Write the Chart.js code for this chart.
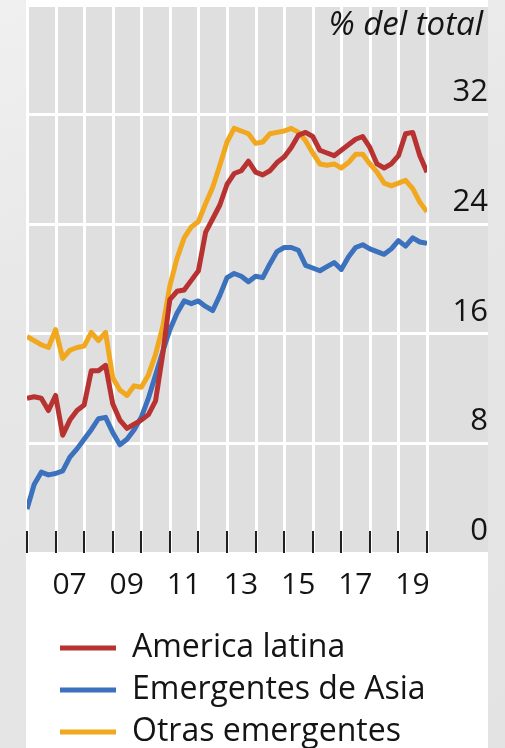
<!DOCTYPE html>
<html lang="es">
<head>
<meta charset="utf-8">
<script src="https://cdn.jsdelivr.net/npm/chart.js@4.4.1/dist/chart.umd.min.js"></script>
<style>
  html, body { margin: 0; overflow: hidden; }
  body { width: 505px; height: 748px; position: relative;
    background: linear-gradient(160deg, #f0f0f0 0%, #e7e7e7 35%, #e3e3e3 100%); }
  #panel { position: absolute; left: 26px; top: 0; width: 462px; height: 758px; background: #fff; }
</style>
</head>
<body>
<div id="panel"><canvas id="grafico" width="462" height="758"></canvas></div>
<script>
// trimestres 2006 T1 .. 2020 T1
const trimestres = [
  2006, 2006.25, 2006.5, 2006.75, 2007, 2007.25, 2007.5, 2007.75,
  2008, 2008.25, 2008.5, 2008.75, 2009, 2009.25, 2009.5, 2009.75,
  2010, 2010.25, 2010.5, 2010.75, 2011, 2011.25, 2011.5, 2011.75,
  2012, 2012.25, 2012.5, 2012.75, 2013, 2013.25, 2013.5, 2013.75,
  2014, 2014.25, 2014.5, 2014.75, 2015, 2015.25, 2015.5, 2015.75,
  2016, 2016.25, 2016.5, 2016.75, 2017, 2017.25, 2017.5, 2017.75,
  2018, 2018.25, 2018.5, 2018.75, 2019, 2019.25, 2019.5, 2019.75,
  2020
];
const americaLatina = [
  11.3, 11.4, 11.3, 10.4, 11.5, 8.6, 9.7, 10.4, 10.8, 13.3, 13.3, 13.7,
  10.9, 9.7, 9.1, 9.4, 9.7, 10.1, 11.1, 14.5, 18.5, 19.1, 19.2, 19.9,
  20.6, 23.4, 24.4, 25.4, 26.9, 27.7, 27.9, 28.6, 27.8, 27.6, 27.9, 28.5,
  28.9, 29.6, 30.5, 30.7, 30.4, 29.4, 29.2, 29.0, 29.4, 29.8, 30.2, 30.4,
  29.6, 28.4, 28.1, 28.4, 29.0, 30.6, 30.7, 29.0, 27.8
];
const emergentesAsia = [
  3.2, 5.0, 5.9, 5.7, 5.8, 6.0, 7.0, 7.6, 8.3, 9.0, 9.8, 9.9,
  8.8, 7.9, 8.3, 9.0, 9.9, 11.3, 13.0, 14.7, 16.3, 17.5, 18.4, 18.2,
  18.4, 18.0, 17.7, 18.8, 20.1, 20.4, 20.2, 19.8, 20.2, 20.1, 21.1, 22.0,
  22.3, 22.3, 22.1, 21.0, 20.8, 20.6, 20.9, 21.2, 20.7, 21.6, 22.3, 22.5,
  22.2, 22.0, 21.8, 22.2, 22.8, 22.4, 23.0, 22.7, 22.6
];
const otrasEmergentes = [
  15.8, 15.5, 15.2, 15.0, 16.3, 14.2, 14.8, 15.0, 15.1, 16.1, 15.5, 16.1,
  12.8, 11.9, 11.5, 12.2, 12.1, 13.0, 14.5, 16.5, 19.5, 21.5, 23.0, 23.8,
  24.2, 25.5, 26.7, 28.3, 30.0, 31.0, 30.8, 30.6, 29.9, 30.0, 30.6, 30.7,
  30.8, 31.0, 30.7, 30.1, 29.2, 28.4, 28.3, 28.4, 28.1, 28.5, 29.1, 29.1,
  28.4, 27.8, 27.0, 26.8, 27.0, 27.2, 26.6, 25.6, 24.9
];
const aniosGrid = [2006, 2007, 2008, 2009, 2010, 2011, 2012, 2013, 2014, 2015, 2016, 2017, 2018, 2019, 2020];
const aniosEtiqueta = [2007, 2009, 2011, 2013, 2015, 2017, 2019];
const etiquetasX = ['07', '09', '11', '13', '15', '17', '19'];
const marcasY = [0, 8, 16, 24, 32];
const unidad = '% del total';

const fuente = '"Open Sans", "Noto Sans", sans-serif';
const colorTexto = '#141414';

// fondo gris del area de trazado, incluida la franja de etiquetas del eje y
const fondoGris = {
  id: 'fondoGris',
  beforeDraw(chart) {
    const { ctx, chartArea: a } = chart;
    ctx.save();
    ctx.fillStyle = '#dfdfdf';
    ctx.fillRect(a.left, a.top, chart.width - a.left, a.bottom - a.top);
    ctx.restore();
  }
};

// lineas verticales por año, marcas negras hacia dentro y texto de la unidad
const marcasEje = {
  id: 'marcasEje',
  beforeDatasetsDraw(chart) {
    const { ctx, chartArea: a, scales: { x } } = chart;
    ctx.save();
    ctx.strokeStyle = '#ffffff';
    ctx.lineWidth = 3;
    aniosGrid.forEach(anio => {
      const px = Math.round(x.getPixelForValue(anio)) + 0.5;
      ctx.beginPath();
      ctx.moveTo(px, a.top);
      ctx.lineTo(px, a.bottom);
      ctx.stroke();
    });
    ctx.strokeStyle = '#222';
    ctx.lineWidth = 2;
    aniosGrid.forEach(anio => {
      const px = Math.round(x.getPixelForValue(anio));
      ctx.beginPath();
      ctx.moveTo(px, a.bottom - 22);
      ctx.lineTo(px, a.bottom);
      ctx.stroke();
    });
    ctx.restore();
  },
  afterDraw(chart) {
    const { ctx, chartArea: a } = chart;
    ctx.save();
    ctx.font = 'italic 33px ' + fuente;
    ctx.fillStyle = colorTexto;
    ctx.textAlign = 'right';
    ctx.textBaseline = 'middle';
    ctx.fillText(unidad, chart.width - 5, a.top + 21);
    ctx.restore();
  }
};

const moverLeyenda = {
  id: 'moverLeyenda',
  afterLayout(chart) {
    chart.legend.left += 23;
  }
};

const contexto = document.getElementById('grafico').getContext('2d');

const grafico = new Chart(contexto, {
  type: 'line',
  data: {
    datasets: [
      {
        label: 'America latina',
        data: trimestres.map((t, i) => ({ x: t, y: americaLatina[i] })),
        borderColor: '#b83232',
        backgroundColor: '#b83232'
      },
      {
        label: 'Emergentes de Asia',
        data: trimestres.map((t, i) => ({ x: t, y: emergentesAsia[i] })),
        borderColor: '#3b71bd',
        backgroundColor: '#3b71bd'
      },
      {
        label: 'Otras emergentes',
        data: trimestres.map((t, i) => ({ x: t, y: otrasEmergentes[i] })),
        borderColor: '#f1a81f',
        backgroundColor: '#f1a81f'
      }
    ]
  },
  options: {
    responsive: false,
    animation: false,
    layout: { padding: { top: 5, left: 1, right: 0, bottom: 0 } },
    elements: {
      point: { radius: 0 },
      line: { borderWidth: 5, tension: 0, borderJoinStyle: 'round' }
    },
    scales: {
      x: {
        type: 'linear',
        min: 2006,
        max: 2020,
        afterBuildTicks(scale) { scale.ticks = aniosGrid.map(v => ({ value: v })); },
        afterFit(scale) { scale.height = 69; },
        // la rejilla vertical la pinta marcasEje; aqui solo reserva el hueco bajo el area
        grid: { drawOnChartArea: false, drawTicks: true, tickLength: 14, tickColor: 'rgba(0,0,0,0)' },
        border: { display: false },
        ticks: {
          autoSkip: false,
          maxRotation: 0,
          padding: 0,
          labelOffset: 14,
          color: colorTexto,
          font: { family: fuente, size: 30 },
          callback(v) {
            const i = aniosEtiqueta.indexOf(v);
            return i >= 0 ? etiquetasX[i] : '';
          }
        }
      },
      y: {
        position: 'right',
        min: 0,
        max: 40,
        afterBuildTicks(scale) { scale.ticks = marcasY.concat([40]).map(v => ({ value: v })); },
        afterFit(scale) { scale.width = 61; },
        grid: { color: '#ffffff', lineWidth: 3, drawTicks: true, tickLength: 61 },
        border: { display: false },
        ticks: {
          crossAlign: 'far',
          padding: -41,
          labelOffset: -22,
          color: colorTexto,
          font: { family: fuente, size: 31 },
          callback: v => marcasY.includes(v) ? String(v) : ''
        }
      }
    },
    plugins: {
      tooltip: { enabled: false },
      legend: {
        position: 'bottom',
        align: 'start',
        labels: {
          boxWidth: 56,
          boxHeight: 5,
          padding: 10,
          color: colorTexto,
          font: { family: fuente, size: 32 },
          generateLabels(chart) {
            return Chart.defaults.plugins.legend.labels.generateLabels(chart)
              .map(item => ({ ...item, lineWidth: 0 }));
          }
        }
      }
    }
  },
  plugins: [fondoGris, marcasEje, moverLeyenda]
});
</script>
</body>
</html>
